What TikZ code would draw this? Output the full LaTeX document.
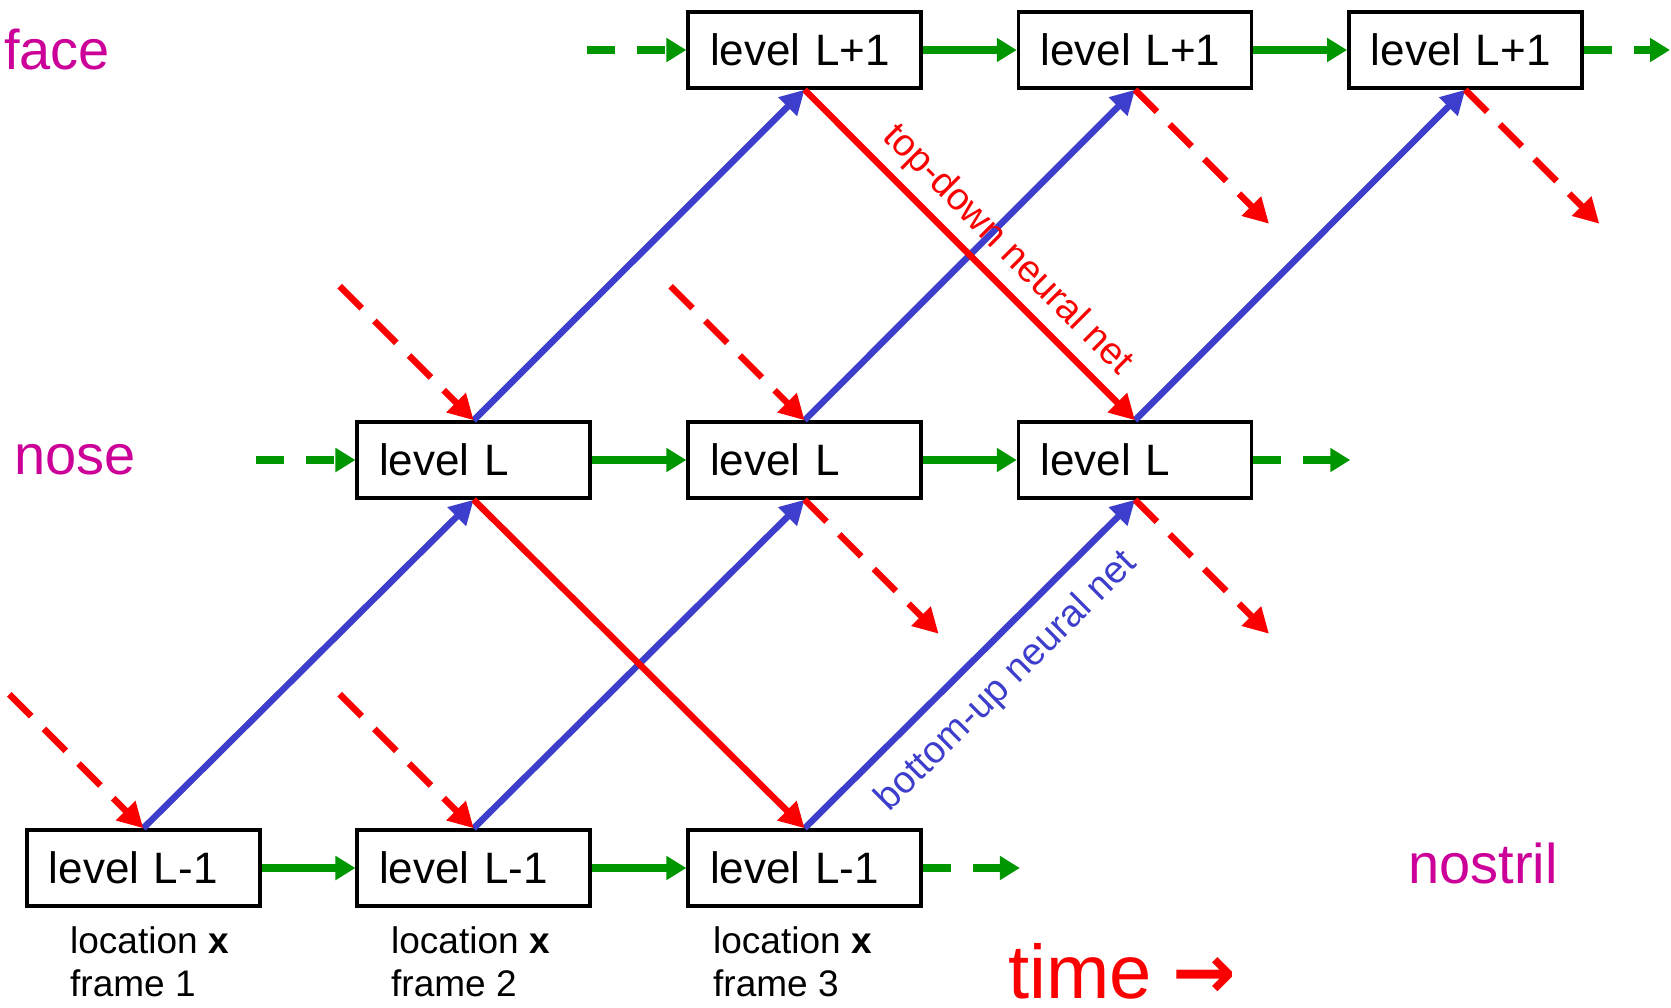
\documentclass[tikz,border=0pt]{standalone}
\usepackage{fontspec}
\setmainfont{Liberation Sans}
\newfontfamily\arrowfont{DejaVu Sans}
\usetikzlibrary{arrows.meta,calc}
\definecolor{rd}{RGB}{250,0,0}
\definecolor{blu}{RGB}{62,62,205}
\definecolor{grn}{RGB}{0,150,0}
\definecolor{mag}{RGB}{204,0,153}
\begin{document}
\begin{tikzpicture}[x=1pt,y=-1pt,
  lvl/.style={draw, line width=3.5pt, minimum width=233pt, minimum height=76pt,
    inner xsep=22pt, inner ysep=0pt, text width=189pt, align=left,
    font=\fontsize{44}{50}\selectfont},
  grarrow/.style={draw=grn, line width=7.5pt, -{Triangle[length=20pt,width=23pt]}},
  grdash/.style={grarrow, dash pattern=on 28pt off 22pt},
  tdarrow/.style={draw=rd, line width=6.5pt, -{Triangle[length=25pt,width=26pt]}},
  tddash/.style={tdarrow, dash pattern=on 31pt off 18pt},
  buarrow/.style={draw=blu, line width=6.5pt, -{Triangle[length=24pt,width=25pt]}},
  rowlabel/.style={text=mag, inner sep=0pt, anchor=west, font=\fontsize{56}{60}\selectfont},
  sublabel/.style={inner sep=0pt, anchor=north west, align=left, font=\fontsize{37}{43}\selectfont}
]
\useasboundingbox (0,0) rectangle (1671,1007);
\fill[white] (0,0) rectangle (1671,1007);
\clip (0,0) rectangle (1671,1007);

% boxes
\node[lvl] (b0) at (143.3,868) {level L-1};
\node[lvl] (b1) at (473.7,868) {level L-1};
\node[lvl] (b2) at (804.6,868) {level L-1};
\node[lvl] (m1) at (473.7,460) {level L};
\node[lvl] (m2) at (804.6,460) {level L};
\node[lvl] (m3) at (1135,460) {level L};
\node[lvl] (t2) at (804.6,50) {level L+1};
\node[lvl] (t3) at (1135,50) {level L+1};
\node[lvl] (t4) at (1465.3,50) {level L+1};

% row labels
\node[rowlabel] (face) at (4,50) {face};
\node[rowlabel] (nose) at (14,460) {nose};
\node[rowlabel] (nostril) at (1408,863) {nostril};

% sub labels
\node[sublabel] (s0) at (70,926) {location \textbf{x}\\frame 1};
\node[sublabel] (s1) at (391,926) {location \textbf{x}\\frame 2};
\node[sublabel] (s2) at (713,926) {location \textbf{x}\\frame 3};

% time
\node[text=rd, inner sep=0pt, anchor=base west, font=\fontsize{76}{80}\selectfont] (time) at (1008,998) {time {\arrowfont\bfseries →}};

% free ends
\coordinate (gt2) at ($(t2.west)+(-99,0)$);
\coordinate (gt4) at (1670,50);
\coordinate (gm1) at ($(m1.west)+(-99,0)$);
\coordinate (gm3) at ($(m3.east)+(97,0)$);
\coordinate (gb2) at ($(b2.east)+(97,0)$);
\coordinate (rb0) at ($(b0.north)+(-134,-134)$);
\coordinate (rb1) at ($(b1.north)+(-134,-134)$);
\coordinate (rm1) at ($(m1.north)+(-134,-134)$);
\coordinate (rm2) at ($(m2.north)+(-134,-134)$);
\coordinate (rt3) at ($(t3.south)+(134,134)$);
\coordinate (rt4) at ($(t4.south)+(134,134)$);
\coordinate (rm2o) at ($(m2.south)+(134,134)$);
\coordinate (rm3o) at ($(m3.south)+(134,134)$);

% green time arrows
\draw[grarrow] (b0.east) -- (b1.west);
\draw[grarrow] (b1.east) -- (b2.west);
\draw[grdash] (b2.east) -- (gb2);
\draw[grdash] (gm1) -- (m1.west);
\draw[grarrow] (m1.east) -- (m2.west);
\draw[grarrow] (m2.east) -- (m3.west);
\draw[grdash] (m3.east) -- (gm3);
\draw[grdash] (gt2) -- (t2.west);
\draw[grarrow] (t2.east) -- (t3.west);
\draw[grarrow] (t3.east) -- (t4.west);
\draw[grdash] (t4.east) -- (gt4);

% bottom-up
\draw[buarrow] (b0.north) -- (m1.south);
\draw[buarrow] (b1.north) -- (m2.south);
\draw[buarrow] (b2.north) -- (m3.south)
  node[pos=0.53, sloped, below=18pt, inner sep=0pt, text=blu, font=\fontsize{38}{40}\selectfont] (bulabel) {bottom-up neural net};
\draw[buarrow] (m1.north) -- (t2.south);
\draw[buarrow] (m2.north) -- (t3.south);
\draw[buarrow] (m3.north) -- (t4.south);

% top-down
\draw[tdarrow] (m1.south) -- (b2.north);
\draw[tdarrow] (t2.south) -- (m3.north)
  node[pos=0.55, sloped, above=9pt, inner sep=0pt, text=rd, font=\fontsize{38}{40}\selectfont] (tdlabel) {top-down neural net};
\draw[tddash] (rb0) -- (b0.north);
\draw[tddash] (rb1) -- (b1.north);
\draw[tddash] (rm1) -- (m1.north);
\draw[tddash] (rm2) -- (m2.north);
\draw[tddash] (t3.south) -- (rt3);
\draw[tddash] (t4.south) -- (rt4);
\draw[tddash] (m2.south) -- (rm2o);
\draw[tddash] (m3.south) -- (rm3o);
\end{tikzpicture}
\end{document}
